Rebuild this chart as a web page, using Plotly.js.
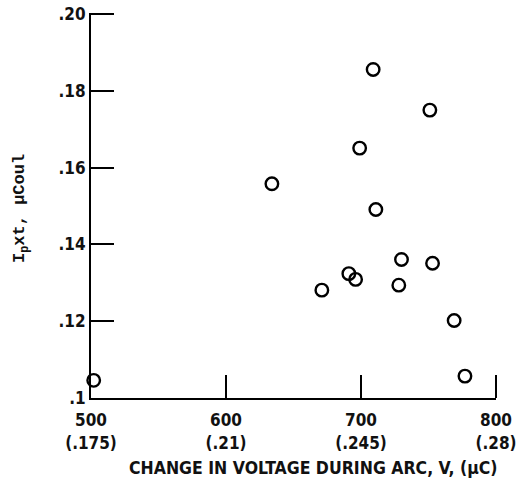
<!DOCTYPE html>
<html>
<head>
<meta charset="utf-8">
<script src="https://cdn.plot.ly/plotly-3.0.1.min.js"></script>
<style>html,body{margin:0;padding:0;background:#fff;overflow:hidden;}#chart{width:516px;height:483px;}</style>
</head>
<body>
<div id="chart"></div>
<script>
// Data
var voltageChange = [502, 634, 671, 691, 696, 699, 709, 711, 728, 730, 751, 753, 769, 777];
var ipxt = [0.1046, 0.1558, 0.1281, 0.1324, 0.1309, 0.1651, 0.1856, 0.1491, 0.1294, 0.1361, 0.1750, 0.1351, 0.1202, 0.1057];

var xTickVals = [500, 600, 700, 800];
var xTickText = ["500<br>(.175)", "600<br>(.21)", "700<br>(.245)", "800<br>(.28)"];
var yTickVals = [0.10, 0.12, 0.14, 0.16, 0.18, 0.20];
var yTickText = [".1", ".12", ".14", ".16", ".18", ".20"];

var fam = "DejaVu Sans Condensed, Liberation Sans Narrow, Arial Narrow, sans-serif";
var tickFont = {family: fam, size: 17, color: "#111", weight: "bold"};
var titleFont = {family: fam, size: 17.5, color: "#111", weight: "bold"};
var TICK_LEN = 23;
var X_RANGE = [500, 800];

var trace = {
  x: voltageChange,
  y: ipxt,
  mode: "markers",
  type: "scatter",
  cliponaxis: false,
  marker: {symbol: "circle-open", size: 12.5, color: "#000", line: {width: 2.4, color: "#000"}},
  hoverinfo: "x+y"
};

var margin = {l: 91, r: 20, t: 13, b: 85};
var plotW = 516 - margin.l - margin.r;
var plotH = 483 - margin.t - margin.b;
var lastX = xTickVals[xTickVals.length - 1];
var lastXPaper = (lastX - X_RANGE[0]) / (X_RANGE[1] - X_RANGE[0]);

var layout = {
  width: 516,
  height: 483,
  margin: margin,
  paper_bgcolor: "#fff",
  plot_bgcolor: "#fff",
  showlegend: false,
  xaxis: {
    range: X_RANGE,
    tickvals: xTickVals,
    ticktext: xTickText,
    ticks: "inside",
    ticklen: TICK_LEN,
    tickwidth: 2,
    tickcolor: "#000",
    showline: true,
    linecolor: "#000",
    linewidth: 2,
    showgrid: false,
    zeroline: false,
    tickfont: tickFont,
    ticklabeloverflow: "allow",
    ticklabelstandoff: 6,
    fixedrange: true
  },
  yaxis: {
    range: [0.1, 0.2003],
    tickvals: yTickVals,
    ticktext: yTickText,
    ticks: "inside",
    ticklen: TICK_LEN,
    tickwidth: 2,
    tickcolor: "#000",
    showline: true,
    linecolor: "#000",
    linewidth: 2,
    showgrid: false,
    zeroline: false,
    tickfont: tickFont,
    ticklabeloverflow: "allow",
    fixedrange: true
  },
  // Plotly drops the inside tick at the right end of the x axis; draw that tick mark (paper-referenced, unclipped)
  shapes: [
    {
      type: "line",
      xref: "paper", yref: "paper",
      x0: lastXPaper, x1: lastXPaper,
      y0: 0, y1: TICK_LEN / plotH,
      line: {color: "#000", width: 2},
      layer: "above"
    }
  ],
  annotations: [
    {
      text: "CHANGE IN VOLTAGE DURING ARC, V, (μC)",
      xref: "paper", yref: "paper",
      x: 313, y: 468,
      showarrow: false,
      font: titleFont
    },
    {
      text: "I<sub>p</sub>xt, μCoul",
      xref: "paper", yref: "paper",
      x: 21, y: 209,
      textangle: -90,
      showarrow: false,
      font: {family: "Liberation Mono, DejaVu Sans Mono, monospace", size: 17, color: "#111", weight: "bold"}
    }
  ]
};

// Convert pixel-placed annotations to paper coordinates
layout.annotations.forEach(function (a) {
  a.x = (a.x - margin.l) / plotW;
  a.y = (483 - margin.b - a.y) / plotH;
  a.xanchor = "center";
  a.yanchor = "middle";
});

Plotly.newPlot("chart", [trace], layout, {displayModeBar: false, staticPlot: true});
</script>
</body>
</html>
